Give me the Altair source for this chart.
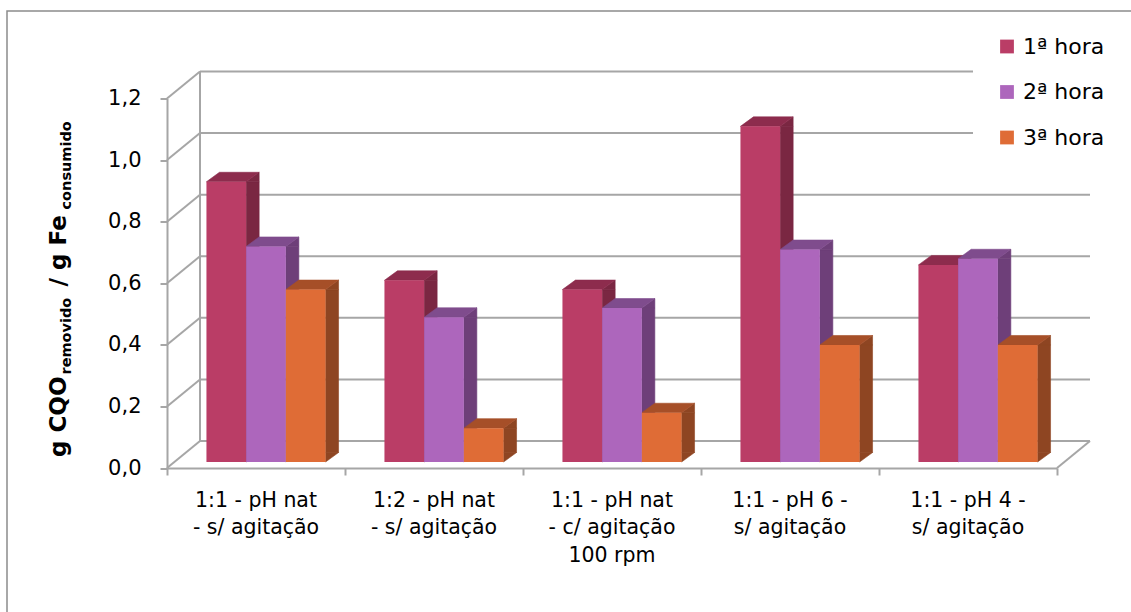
import altair as alt
import pandas as pd

# ---- data -------------------------------------------------------------
categorias = [
    "1:1 - pH nat\n- s/ agitação",
    "1:2 - pH nat\n- s/ agitação",
    "1:1 - pH nat\n- c/ agitação\n100 rpm",
    "1:1 - pH 6 -\ns/ agitação",
    "1:1 - pH 4 -\ns/ agitação",
]
series = ["1ª hora", "2ª hora", "3ª hora"]
hora1 = [0.91, 0.59, 0.56, 1.09, 0.64]
hora2 = [0.70, 0.47, 0.50, 0.69, 0.66]
hora3 = [0.56, 0.11, 0.16, 0.38, 0.38]
y_ticks = [0.0, 0.2, 0.4, 0.6, 0.8, 1.0, 1.2]

# ---- style ------------------------------------------------------------
FONT = "DejaVu Sans"
GRID = "#A6A6A6"
cor_frente = ["#BA3D66", "#AD66BC", "#DF6C36"]
cor_lado = ["#7A2742", "#6E3F79", "#8E4522"]
cor_topo = ["#8D2C4D", "#7F4C8D", "#A64F28"]

W, H = 890, 369.5
N = len(categorias)
YMAX = y_ticks[-1]
UX = N / W        # x units per pixel
UY = YMAX / H     # y units per pixel

# oblique projection (pixel sizes)
WALL_PX, WALL_PY = 33, 27        # back wall offset
BAR_PX0, BAR_PY0 = 10, 6         # bar row position on the floor
BAR_PW = 39.7                    # bar width
DEP_PX, DEP_PY = 13, 9.5         # bar depth

WALL_DX, WALL_DY = WALL_PX * UX, WALL_PY * UY
BAR_X0, BAR_Y0 = BAR_PX0 * UX, BAR_PY0 * UY
BAR_W = BAR_PW * UX
DEP_X, DEP_Y = DEP_PX * UX, DEP_PY * UY

# symbol shapes in the [-1, 1] box (a = half height / half width)
a_tri = (DEP_PY / 2) / (DEP_PX / 2)
TRI_TOP = f"M-1,{a_tri:.4f}L1,{-a_tri:.4f}L1,{a_tri:.4f}Z"
TRI_BOT = f"M-1,{-a_tri:.4f}L1,{-a_tri:.4f}L-1,{a_tri:.4f}Z"
TRI_SIZE = DEP_PX ** 2
half_top = (BAR_PW + DEP_PX) / 2
a_top = (DEP_PY / 2) / half_top
b_top = (BAR_PW - half_top) / half_top
TOP_SHAPE = (f"M-1,{a_top:.4f}L{b_top:.4f},{a_top:.4f}"
             f"L1,{-a_top:.4f}L{-b_top:.4f},{-a_top:.4f}Z")
TOP_SIZE = (2 * half_top) ** 2

valores = [hora1, hora2, hora3]

frente, lado, topo = [], [], []
for i in range(N):
    centro = i + 0.5 + BAR_X0
    for j, serie in enumerate(series):
        v = valores[j][i]
        xl = centro - 1.5 * BAR_W + j * BAR_W
        xr = xl + BAR_W
        frente.append(dict(serie=serie, x=xl, x2=xr, y=BAR_Y0, y2=v + BAR_Y0))
        lado.append(dict(cor=cor_lado[j], x=xr, x2=xr + DEP_X, xm=xr + DEP_X / 2,
                         y=BAR_Y0 + DEP_Y, y2=v + BAR_Y0,
                         yt=v + BAR_Y0 + DEP_Y / 2, yb=BAR_Y0 + DEP_Y / 2))
        topo.append(dict(cor=cor_topo[j], x=(xl + xr + DEP_X) / 2,
                         y=v + BAR_Y0 + DEP_Y / 2))

df_frente = pd.DataFrame(frente)
df_lado = pd.DataFrame(lado)
df_topo = pd.DataFrame(topo)

# back-wall gridlines, left-wall diagonals and floor edges
linhas = []
for v in y_ticks:
    linhas.append(dict(x=WALL_DX, x2=N + WALL_DX, y=v + WALL_DY, y2=v + WALL_DY))
    linhas.append(dict(x=0, x2=WALL_DX, y=v, y2=v + WALL_DY))
linhas.append(dict(x=WALL_DX, x2=WALL_DX, y=WALL_DY, y2=YMAX + WALL_DY))
linhas.append(dict(x=N, x2=N + WALL_DX, y=0, y2=WALL_DY))
df_linhas = pd.DataFrame(linhas)

df_cat = pd.DataFrame(dict(x=[i + 0.5 for i in range(N)], rotulo=categorias))

xs = alt.Scale(domain=[0, N], nice=False, zero=False)
ys = alt.Scale(domain=[0, YMAX], nice=False, zero=False)

x_axis = alt.Axis(values=list(range(N + 1)), labels=False, tickSize=7, tickWidth=2,
                  tickColor=GRID, domainColor=GRID, domainWidth=2, grid=False, title=None)
y_axis = alt.Axis(values=y_ticks, labelExpr="replace(format(datum.value, '.1f'), '.', ',')",
                  tickSize=7, tickWidth=2, tickColor=GRID, domainColor=GRID, domainWidth=2,
                  labelFontSize=21, labelFont=FONT, labelColor="black", labelPadding=19,
                  grid=False, title=None)


def X(field):
    return alt.X(field, scale=xs, axis=x_axis)


def Y(field):
    return alt.Y(field, scale=ys, axis=y_axis)


fill_cor = alt.Fill("cor:N", scale=None)
stroke_cor = alt.Stroke("cor:N", scale=None)

borda = alt.Chart(pd.DataFrame({"a": [0]})).mark_rect(
    fillOpacity=0, stroke="#8C8C8C", strokeWidth=1.5
).encode(x=alt.value(-160), x2=alt.value(980), y=alt.value(-87.5), y2=alt.value(530))

grade = alt.Chart(df_linhas).mark_rule(color=GRID, strokeWidth=2).encode(
    x=X("x:Q"), x2="x2:Q", y=Y("y:Q"), y2="y2:Q",
)

# side faces: a rectangle plus two triangles at the slanted ends
lado_rect = alt.Chart(df_lado).mark_rect(strokeWidth=0.6).encode(
    x=X("x:Q"), x2="x2:Q", y=Y("y:Q"), y2="y2:Q", fill=fill_cor, stroke=stroke_cor,
)
lado_cima = alt.Chart(df_lado).mark_point(
    shape=TRI_TOP, size=TRI_SIZE, filled=True, opacity=1, strokeWidth=0.6,
).encode(x=X("xm:Q"), y=Y("yt:Q"), fill=fill_cor, stroke=stroke_cor)
lado_baixo = alt.Chart(df_lado).mark_point(
    shape=TRI_BOT, size=TRI_SIZE, filled=True, opacity=1, strokeWidth=0.6,
).encode(x=X("xm:Q"), y=Y("yb:Q"), fill=fill_cor, stroke=stroke_cor)

# top faces
topos = alt.Chart(df_topo).mark_point(
    shape=TOP_SHAPE, size=TOP_SIZE, filled=True, opacity=1, strokeWidth=0.6,
).encode(x=X("x:Q"), y=Y("y:Q"), fill=fill_cor, stroke=stroke_cor)

frentes = alt.Chart(df_frente).mark_rect().encode(
    x=X("x:Q"), x2="x2:Q", y=Y("y:Q"), y2="y2:Q",
    color=alt.Color(
        "serie:N",
        scale=alt.Scale(domain=series, range=cor_frente),
        legend=alt.Legend(
            title=None, orient="none", legendX=806, legendY=-86,
            symbolType="square", symbolSize=190, symbolStrokeWidth=0,
            labelFontSize=22, labelFont=FONT, labelColor="black",
            labelOffset=5, rowPadding=23.5, padding=23, fillColor="white",
        ),
    ),
)

rotulos = alt.Chart(df_cat).mark_text(
    lineBreak="\n", baseline="top", align="center", fontSize=20.5, lineHeight=27.5,
    font=FONT, color="black",
).encode(x=X("x:Q"), y=alt.value(392), text="rotulo:N")

# rotated y-axis title with subscripts
titulo_partes = [
    dict(t="g CQO", x=-101, y=358.5, s=23),
    dict(t="removido", x=-96, y=276, s=14.5),
    dict(t="/ g Fe", x=-101, y=188, s=23),
    dict(t="consumido", x=-96, y=111, s=14.5),
]
titulo = alt.layer(*[
    alt.Chart(pd.DataFrame({"t": [p["t"]]})).mark_text(
        angle=270, align="left", baseline="alphabetic", fontSize=p["s"],
        fontWeight="bold", font=FONT, color="black",
    ).encode(x=alt.value(p["x"]), y=alt.value(p["y"]), text="t:N")
    for p in titulo_partes
])

chart = alt.layer(
    borda, grade, lado_rect, lado_cima, lado_baixo, topos, frentes, rotulos, titulo
).properties(
    width=W, height=H,
    padding={"left": 167, "top": 98.5, "right": 74, "bottom": 144},
    autosize=alt.AutoSizeParams(type="none"),
    background="white",
).configure_view(stroke=None)

chart.save("out.html", embed_options={"renderer": "svg", "actions": False})
